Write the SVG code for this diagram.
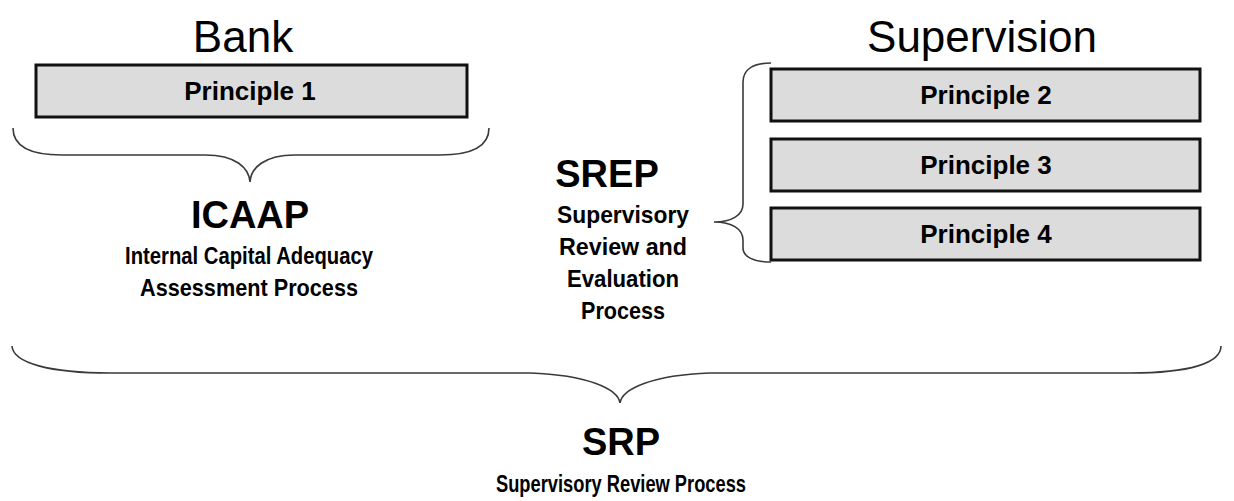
<svg xmlns="http://www.w3.org/2000/svg" width="1234" height="501" viewBox="0 0 1234 501">
<style>
.box{fill:#dcdcdc;stroke:#111;stroke-width:3}
.brace{fill:none;stroke:#3a3a3a;stroke-width:1.6}
.title{font-family:"Liberation Sans",Arial,sans-serif;font-size:44px;fill:#000;text-anchor:middle}
.pr{font-family:"Liberation Sans",Arial,sans-serif;font-size:26px;font-weight:bold;fill:#000;text-anchor:middle}
.big{font-family:"Liberation Sans",Arial,sans-serif;font-size:38px;font-weight:bold;fill:#000;text-anchor:middle}
.sub{font-family:"Liberation Sans",Arial,sans-serif;font-size:24px;font-weight:bold;fill:#000;text-anchor:middle}
</style>
<rect width="1234" height="501" fill="#fff"/>
<g id="bank-title"><text class="title" x="243" y="52">Bank</text></g>
<g id="supervision-title"><text class="title" x="982" y="52">Supervision</text></g>
<g id="principle1"><rect class="box" x="36" y="65" width="431" height="52"/><text class="pr" x="250" y="100">Principle 1</text></g>
<g id="principle2"><rect class="box" x="771" y="69" width="429" height="52"/><text class="pr" x="986" y="104">Principle 2</text></g>
<g id="principle3"><rect class="box" x="771" y="139" width="429" height="52"/><text class="pr" x="986" y="174">Principle 3</text></g>
<g id="principle4"><rect class="box" x="771" y="208" width="429" height="52"/><text class="pr" x="986" y="243">Principle 4</text></g>
<g id="icaap"><text class="big" x="250" y="228">ICAAP</text><text class="sub" x="249" y="264" textLength="248" lengthAdjust="spacingAndGlyphs">Internal Capital Adequacy</text><text class="sub" x="249" y="296" textLength="218" lengthAdjust="spacingAndGlyphs">Assessment Process</text></g>
<g id="srep"><text class="big" x="607" y="187">SREP</text><text class="sub" x="623" y="223" textLength="132" lengthAdjust="spacingAndGlyphs">Supervisory</text><text class="sub" x="623" y="255" textLength="128" lengthAdjust="spacingAndGlyphs">Review and</text><text class="sub" x="623" y="287" textLength="112" lengthAdjust="spacingAndGlyphs">Evaluation</text><text class="sub" x="623" y="319" textLength="84" lengthAdjust="spacingAndGlyphs">Process</text></g>
<g id="srp"><text class="big" x="621" y="455">SRP</text><text class="sub" x="621" y="492" textLength="250" lengthAdjust="spacingAndGlyphs">Supervisory Review Process</text></g>
<g id="connectors">
<path class="brace" d="M13,128 C13,146 30,155 62,155 L205,155 C236,155 249,168 250,182 C251,168 264,155 295,155 L440,155 C472,155 489,146 489,128"/>
<path class="brace" d="M771,63 C754,63 743,69 743,82 L743,204 C743,215 732,222 714,222 C732,222 743,229 743,240 L743,248 C743,257 754,262 771,262"/>
<path class="brace" d="M12,346 C13,363 50,373 110,373 L530,373 C588,375 618,389 620,403 C622,389 652,375 710,373 L1130,373 C1190,373 1221,363 1221,346"/>
</g>
</svg>
